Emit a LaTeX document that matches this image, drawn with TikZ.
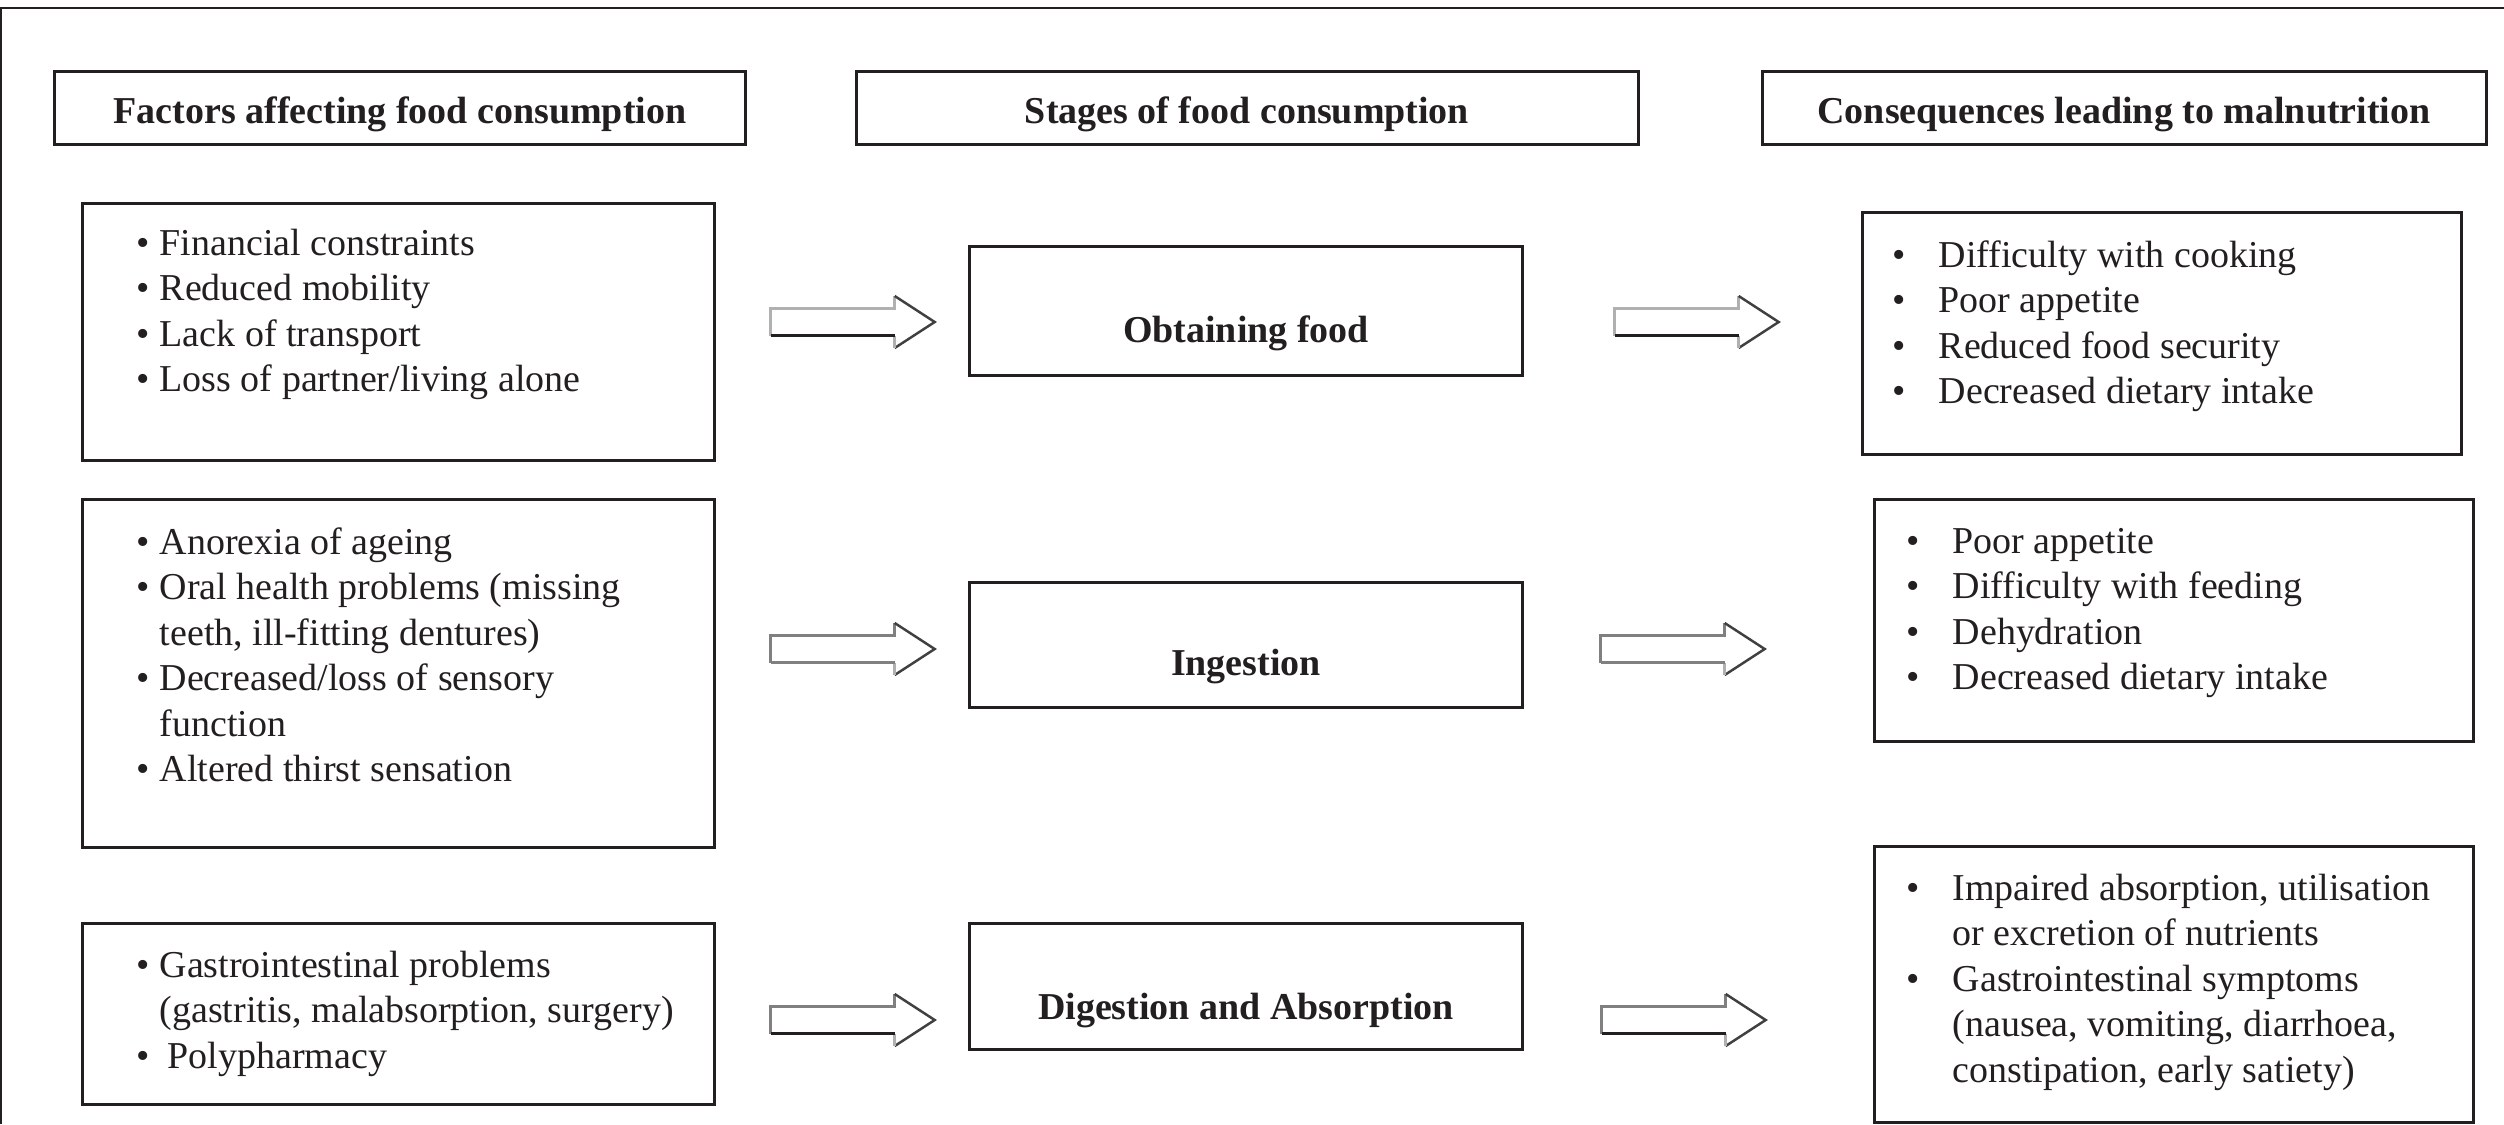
\documentclass[tikz,border=0pt]{standalone}
\usepackage{fontspec}
\setmainfont{Liberation Serif}
\usetikzlibrary{calc}
\definecolor{ink}{RGB}{35,31,32}
\definecolor{alight}{RGB}{176,176,176}
\definecolor{amid}{RGB}{128,128,128}
\definecolor{adark}{RGB}{64,64,64}
\tikzset{
  pics/blockarr/.style 2 args={code={
    \fill[white] (0,-13.5) -- (124,-13.5) -- (124,-26) -- (164,0) -- (124,26) -- (124,13.5) -- (0,13.5) -- cycle;
    \draw[line width=0.7pt, #1] (0,13.5) -- (0,-13.5) -- (124,-13.5) -- (124,-26);
    \draw[line width=0.7pt, adark] (124,-26) -- (164,0) -- (124,26);
    \draw[line width=0.7pt, alight] (124,26) -- (124,13.5);
    \draw[line width=0.7pt, #2] (124,13.5) -- (0,13.5);
  }}
}
\begin{document}
\begin{tikzpicture}[x=0.01cm,y=-0.01cm,
  box/.style={draw=ink, line width=0.85pt, rectangle, inner sep=0pt},
  head/.style={anchor=base, inner sep=0pt, font=\fontsize{10.8pt}{12.95pt}\selectfont\bfseries, text=ink},
  txt/.style={anchor=base west, inner sep=0pt, font=\fontsize{10.8pt}{12.95pt}\selectfont, text=ink}]
\useasboundingbox (0,0) rectangle (2504,1124);
\fill[white] (0,0) rectangle (2504,1124);
% outer frame (top and left sides visible)
\draw[ink, line width=0.7pt] (2504,8) -- (1,8) -- (1,1124);

% header boxes
\node[box, minimum width=6.90cm, minimum height=0.72cm] (H1) at (400,108) {};
\node[box, minimum width=7.81cm, minimum height=0.72cm] (H2) at (1247.5,108) {};
\node[box, minimum width=7.23cm, minimum height=0.72cm] (H3) at (2124.5,108) {};
\node[head] (h1t) at (400,123) {Factors affecting food consumption};
\node[head] (h2t) at (1247,123) {Stages of food consumption};
\node[head] (h3t) at (2124,123) {Consequences leading to malnutrition};

% factor boxes
\node[box, minimum width=6.31cm, minimum height=2.56cm] (F1) at (398.5,332) {};
\node[box, minimum width=6.31cm, minimum height=3.47cm] (F2) at (398.5,673.5) {};
\node[box, minimum width=6.31cm, minimum height=1.80cm] (F3) at (398.5,1014) {};

% stage boxes
\node[box, minimum width=5.52cm, minimum height=1.28cm] (S1) at (1246,311) {};
\node[box, minimum width=5.52cm, minimum height=1.24cm] (S2) at (1246,645) {};
\node[box, minimum width=5.52cm, minimum height=1.25cm] (S3) at (1246,986.5) {};
\node[head] (s1t) at (1246,342) {Obtaining food};
\node[head] (s2t) at (1246,675) {Ingestion};
\node[head] (s3t) at (1246,1019) {Digestion and Absorption};

% consequence boxes
\node[box, minimum width=5.98cm, minimum height=2.41cm] (C1) at (2162,333.5) {};
\node[box, minimum width=5.98cm, minimum height=2.41cm] (C2) at (2174,620.5) {};
\node[box, minimum width=5.98cm, minimum height=2.75cm] (C3) at (2174,984.5) {};

% factor texts
\node[txt] (f1t) at (136,255) {\begin{tabular}[t]{@{}p{2.3mm}@{}l@{}}
\textbullet & Financial constraints\\
\textbullet & Reduced mobility\\
\textbullet & Lack of transport\\
\textbullet & Loss of partner/living alone
\end{tabular}};
\node[txt] (f2t) at (136,554) {\begin{tabular}[t]{@{}p{2.3mm}@{}l@{}}
\textbullet & Anorexia of ageing\\
\textbullet & Oral health problems (missing\\
 & teeth, ill-fitting dentures)\\
\textbullet & Decreased/loss of sensory\\
 & function\\
\textbullet & Altered thirst sensation
\end{tabular}};
\node[txt] (f3t) at (136,977) {\begin{tabular}[t]{@{}p{2.3mm}@{}l@{}}
\textbullet & Gastrointestinal problems\\
 & (gastritis, malabsorption, surgery)\\
\textbullet & \hspace{0.8mm}Polypharmacy
\end{tabular}};

% consequence texts
\node[txt] (c1t) at (1892,267) {\begin{tabular}[t]{@{}p{4.6mm}@{}l@{}}
\textbullet & Difficulty with cooking\\
\textbullet & Poor appetite\\
\textbullet & Reduced food security\\
\textbullet & Decreased dietary intake
\end{tabular}};
\node[txt] (c2t) at (1906,553) {\begin{tabular}[t]{@{}p{4.6mm}@{}l@{}}
\textbullet & Poor appetite\\
\textbullet & Difficulty with feeding\\
\textbullet & Dehydration\\
\textbullet & Decreased dietary intake
\end{tabular}};
\node[txt] (c3t) at (1906,900) {\begin{tabular}[t]{@{}p{4.6mm}@{}l@{}}
\textbullet & Impaired absorption, utilisation\\
 & or excretion of nutrients\\
\textbullet & Gastrointestinal symptoms\\
 & (nausea, vomiting, diarrhoea,\\
 & constipation, early satiety)
\end{tabular}};

% block arrows
\coordinate (a1) at ($(F1.east)+(55,-10)$);
\coordinate (a2) at ($(S1.east)+(91,11)$);
\coordinate (a3) at ($(F2.east)+(55,-24.5)$);
\coordinate (a4) at ($(S2.east)+(77,4)$);
\coordinate (a5) at ($(F3.east)+(55,6)$);
\coordinate (a6) at ($(S3.east)+(78,33.5)$);
\pic at (a1) {blockarr={alight}{ink}};
\pic at (a2) {blockarr={alight}{ink}};
\pic at (a3) {blockarr={amid}{amid}};
\pic at (a4) {blockarr={amid}{amid}};
\pic at (a5) {blockarr={amid}{ink}};
\pic at (a6) {blockarr={amid}{ink}};
\end{tikzpicture}
\end{document}
